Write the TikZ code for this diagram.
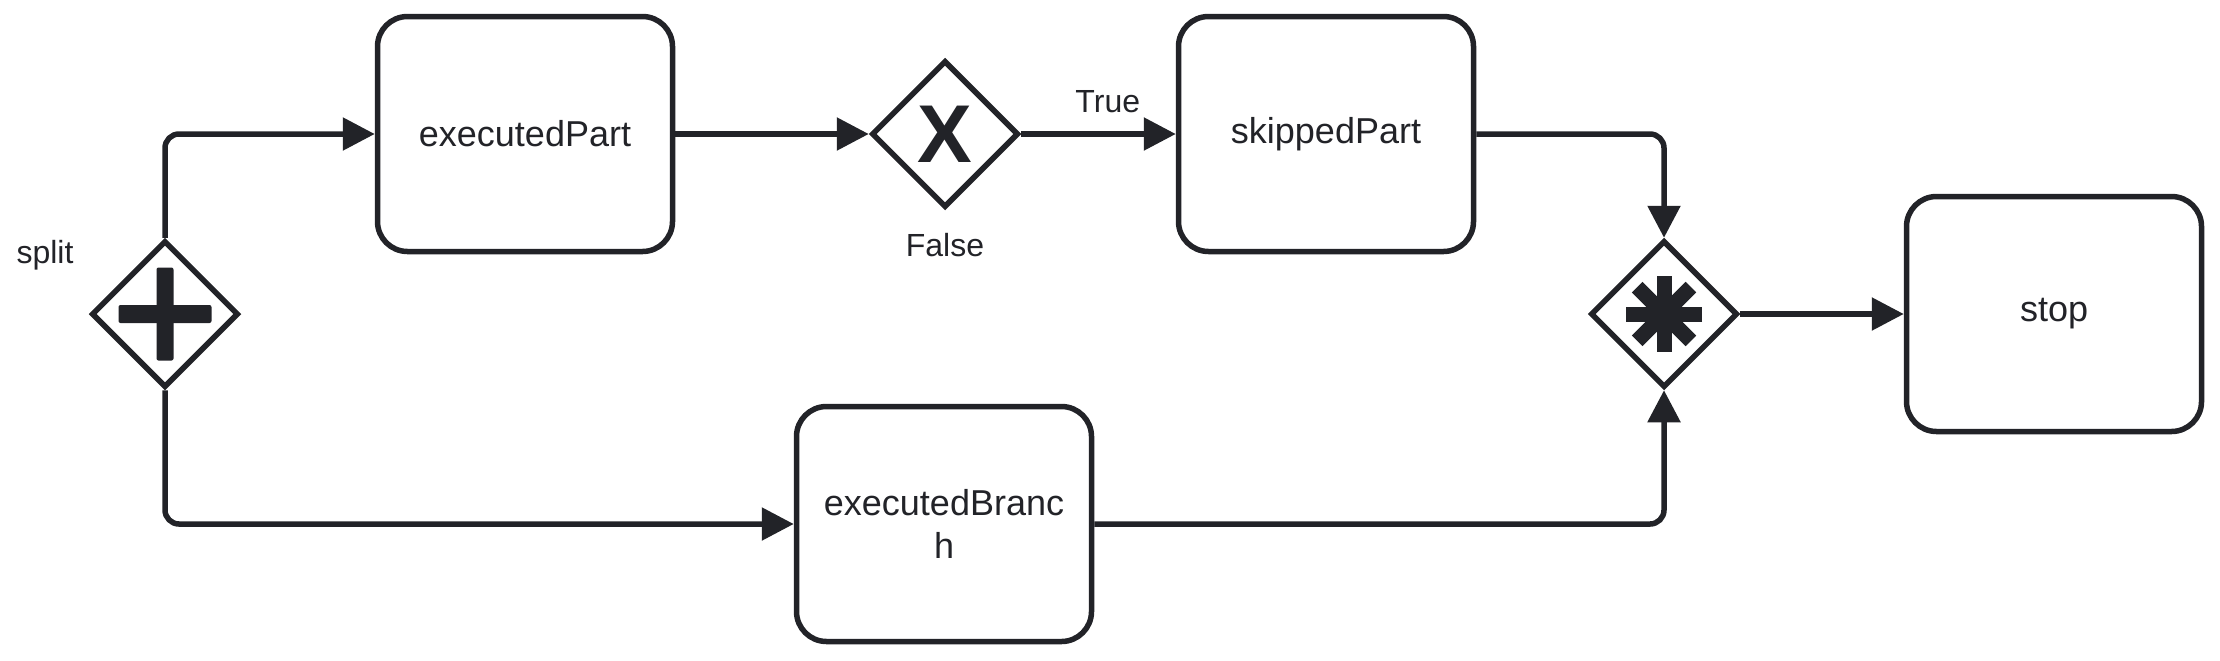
\documentclass[tikz,border=0pt]{standalone}
\usepackage{fontspec}
\setmainfont{Liberation Sans}
\usepackage{tikz}
\usetikzlibrary{positioning,arrows.meta,shapes.geometric}
\usepackage{xcolor}
\definecolor{inkcolor}{RGB}{34, 35, 40}

\tikzset{
    task/.style={draw=inkcolor, line width=2.75pt, rounded corners=15pt, fill=white,
        minimum width=147.5pt, minimum height=117.5pt, align=center, text=inkcolor,
        font=\fontsize{18}{21.5}\selectfont},
    gate/.style={draw=inkcolor, line width=2.75pt, diamond, fill=white,
        minimum width=73.5pt, minimum height=73.5pt, inner sep=0pt, text=inkcolor},
    lbl/.style={text=inkcolor, font=\fontsize{16}{19}\selectfont},
    flow/.style={draw=inkcolor, line width=2.75pt, rounded corners=7pt,
        -{Triangle[length=16pt, width=16pt]}}
}

\begin{document}
\begin{tikzpicture}[x=0.5pt, y=-0.5pt]
    \useasboundingbox (0, 0) rectangle (2220, 660);

    % Gateways
    \node[gate] (split) at (165, 314) {};
    \node[gate, font=\fontsize{41}{41}\bfseries\selectfont] (xor) at (945, 134) {X};
    \node[gate] (merge) at (1664, 314) {};

    % Tasks
    \node[task] (executedPart) at (525, 134) {executedPart};
    \node[task] (skippedPart) at (1326, 134) {skippedPart};
    \node[task] (executedBranch) at (944, 524) {executedBranc\\h};
    \node[task] (stop) at (2054, 314) {stop};

    % Labels
    \node[lbl, anchor=base] (splitlbl) at (45, 263) {split};
    \node[lbl, below=8pt of xor] (falselbl) {False};

    % Gateway markers
    \begin{scope}[shift={(split)}]
        \fill[inkcolor, rounded corners=1pt] (-8.5, -46.5) rectangle (8.5, 46.5);
        \fill[inkcolor, rounded corners=1pt] (-46.5, -9) rectangle (46.5, 9);
    \end{scope}
    \foreach \ang in {0, 45, 90, 135}
        \draw[inkcolor, line width=7.5pt] (merge.center) ++(\ang:19pt) -- ++(\ang+180:38pt);

    % Sequence flows
    \draw[flow] (split.north) |- (executedPart.west);
    \draw[flow] (split.south) |- (executedBranch.west);
    \draw[flow] (executedPart.east) -- (xor.west);
    \draw[flow] (xor.east) -- node[lbl, above=6pt, pos=0.56] (truelbl) {True} (skippedPart.west);
    \draw[flow] (skippedPart.east) -| (merge.north);
    \draw[flow] (executedBranch.east) -| (merge.south);
    \draw[flow] (merge.east) -- (stop.west);

\end{tikzpicture}
\end{document}
